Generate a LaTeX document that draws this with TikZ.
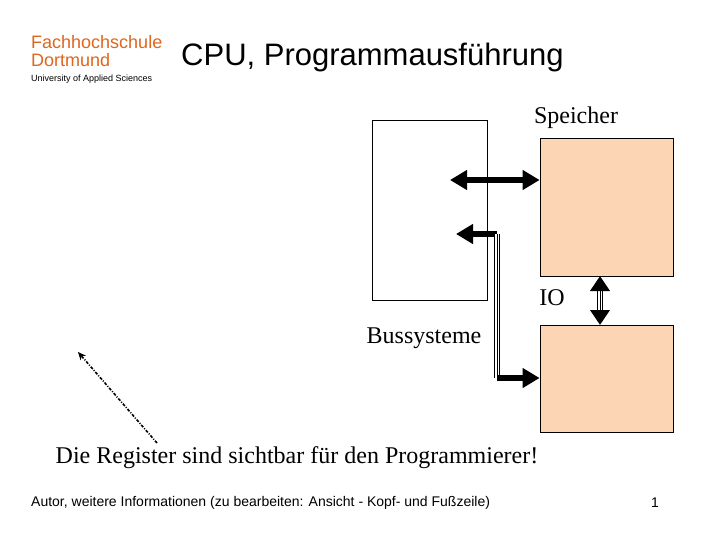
\documentclass[tikz,border=0pt]{standalone}
\usepackage{fontspec}
\setmainfont{Liberation Serif}
\newfontfamily\arial{Liberation Sans}
\usetikzlibrary{arrows.meta}
\definecolor{fhorange}{RGB}{222,102,30}
\definecolor{peach}{RGB}{252,213,181}
\tikzset{
  box/.style={draw=black, line width=0.8pt, inner sep=0pt},
  membox/.style={box, fill=peach, minimum width=133pt},
  bus/.style={line width=6.5pt, {Triangle[length=17pt,width=19pt]}-{Triangle[length=17pt,width=19pt]}},
  busend/.style={line width=6.5pt, -{Triangle[length=17pt,width=19pt]}},
  lbl/.style={font=\fontsize{24}{28}\selectfont, inner sep=0pt},
  hdr/.style={font=\arial, inner sep=0pt, anchor=west},
}
\newcommand{\tripleline}[1]{%
  \draw[line width=5.5pt, black] #1;
  \draw[line width=3.5pt, white] #1;
  \draw[line width=1pt, black] #1;}
\begin{document}
\begin{tikzpicture}[x=1pt,y=-1pt]
\useasboundingbox[fill=white] (0,0) rectangle (720,540);
% header
\node[hdr, text=fhorange, font=\arial\fontsize{18}{21}\selectfont] (fh) at (31,42) {Fachhochschule};
\node[hdr, text=fhorange, font=\arial\fontsize{18}{21}\selectfont] (do) at (31,60) {Dortmund};
\node[hdr, font=\arial\fontsize{9}{11}\selectfont] (uas) at (31,79) {University of Applied Sciences};
\node[hdr, font=\arial\fontsize{31}{36}\selectfont] (title) at (181,57) {CPU, Programmausführung};
% boxes
\node[box, minimum width=115pt, minimum height=180pt] (cpu) at (429.5,210) {};
\node[membox, minimum height=138pt] (spe) at (606.5,207) {};
\node[membox, minimum height=107pt] (io) at (606.5,378.5) {};
% labels
\node[lbl] (spel) at (576,118) {Speicher};
\node[lbl] (iol) at (552,298) {IO};
\node[lbl] (busl) at (424,338) {Bussysteme};
\node[lbl] (reg) at (297,458) {Die Register sind sichtbar für den Programmierer!};
% bus 1
\coordinate (a1) at (450,180);
\draw[bus] (a1) -- (a1 -| spe.west);
% bus 2
\coordinate (b1) at (456,234);
\coordinate (b2) at (497,234);
\coordinate (b3) at (497,378);
\draw[busend] (b2) -- (b1);
\tripleline{(b2) -- (b3)}
\draw[busend] (b3) -- (b3 -| io.west);
% IO arrow
\coordinate (c1) at (600,276);
\coordinate (c2) at (600,325);
\coordinate (c3) at (600,289);
\coordinate (c4) at (600,312);
\tripleline{(c3) -- (c4)}
\draw[line width=6.5pt, -{Triangle[length=15pt,width=19pt]}] (c3) -- (c1);
\draw[line width=6.5pt, -{Triangle[length=15pt,width=19pt]}] (c4) -- (c2);
% dashed pointer
\coordinate (d1) at (157,443);
\coordinate (d2) at (78,352);
\draw[line width=1.6pt, dash pattern=on 3pt off 1.5pt on 1pt off 1.5pt, -{Stealth[length=8pt,width=7pt]}] (d1) -- (d2);
% footer
\node[hdr, font=\arial\fontsize{14}{16}\selectfont] (foot) at (31,503) {Autor, weitere Informationen (zu bearbeiten: Ansicht - Kopf- und Fußzeile)};
\node[font=\arial\fontsize{14}{16}\selectfont, inner sep=0pt] (pg) at (655,503) {1};
\end{tikzpicture}
\end{document}
